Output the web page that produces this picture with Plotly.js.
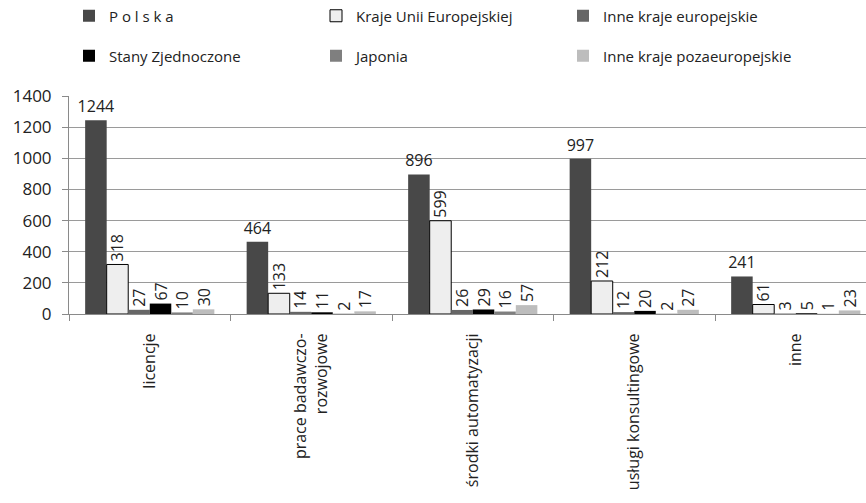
<!DOCTYPE html>
<html>
<head>
<meta charset="utf-8">
<script src="https://cdn.plot.ly/plotly-3.0.1.min.js"></script>
<style>
  html, body { margin: 0; padding: 0; background: #ffffff; }
  #chart { width: 866px; height: 503px; }
</style>
</head>
<body>
<div id="chart"></div>
<script>
// Categories of expenditure
const categories = [
  "licencje",
  "prace badawczo-<br>rozwojowe",
  "środki automatyzacji",
  "usługi konsultingowe",
  "inne"
];

// Values by country of origin
const polska = [1244, 464, 896, 997, 241];
const krajeUE = [318, 133, 599, 212, 61];
const inneEuropejskie = [27, 14, 26, 12, 3];
const stanyZjednoczone = [67, 11, 29, 20, 5];
const japonia = [10, 2, 16, 2, 1];
const innePozaeuropejskie = [30, 17, 57, 27, 23];

const yTicks = [0, 200, 400, 600, 800, 1000, 1200, 1400];

const numFont = { family: "Open Sans, Noto Sans, sans-serif", size: 16, color: "#222222" };

function series(name, values, color, opts) {
  opts = opts || {};
  return {
    type: "bar",
    name: name,
    x: categories,
    y: values,
    text: values.map(String),
    textposition: "outside",
    textangle: opts.angle !== undefined ? opts.angle : -90,
    textfont: numFont,
    constraintext: "none",
    cliponaxis: false,
    marker: {
      color: color,
      line: { color: opts.lineColor || color, width: opts.lineWidth || 0 }
    },
    legend: opts.legend || "legend",
    hoverinfo: "x+y+name"
  };
}

const data = [
  series("P o l s k a", polska, "#484848", { angle: 0 }),
  series("Kraje Unii Europejskiej", krajeUE, "#eeeeee", { lineColor: "#000000", lineWidth: 1 }),
  series("Inne kraje europejskie", inneEuropejskie, "#666666"),
  series("Stany Zjednoczone", stanyZjednoczone, "#000000", { legend: "legend2" }),
  series("Japonia", japonia, "#7f7f7f", { legend: "legend2" }),
  series("Inne kraje pozaeuropejskie", innePozaeuropejskie, "#bdbdbd", { legend: "legend2" })
];

// Two single-row legends, three entries each
const legendBase = {
  orientation: "h",
  xref: "paper",
  yref: "container",
  x: 0,
  xanchor: "left",
  yanchor: "middle",
  entrywidth: 202,
  entrywidthmode: "pixels",
  font: { family: "Open Sans, Noto Sans, sans-serif", size: 15, color: "#222222" },
  bgcolor: "rgba(0,0,0,0)",
  itemclick: false,
  itemdoubleclick: false
};

const layout = {
  width: 866,
  height: 503,
  margin: { l: 69, r: 0, t: 96, b: 189 },
  paper_bgcolor: "#ffffff",
  plot_bgcolor: "#ffffff",
  barmode: "group",
  bargap: 0.2,
  bargroupgap: 0,
  showlegend: true,
  legend: Object.assign({}, legendBase, { y: 1 - 16 / 503 }),
  legend2: Object.assign({}, legendBase, { y: 1 - 56 / 503 }),
  xaxis: {
    type: "category",
    range: [-0.5, 4.435],
    showgrid: false,
    showline: true,
    linecolor: "#8a8a8a",
    linewidth: 1,
    ticks: "outside",
    tickson: "boundaries",
    ticklen: 6,
    tickcolor: "#8a8a8a",
    tickangle: -90,
    ticklabelstandoff: 12,
    tickfont: { family: "Open Sans, Noto Sans, sans-serif", size: 16, color: "#222222" },
    fixedrange: true
  },
  yaxis: {
    range: [0, 1400],
    tickvals: yTicks,
    ticktext: yTicks.map(String),
    showgrid: true,
    gridcolor: "#9a9a9a",
    gridwidth: 1,
    zeroline: false,
    showline: true,
    linecolor: "#8a8a8a",
    linewidth: 1,
    ticks: "outside",
    ticklen: 6,
    tickcolor: "#8a8a8a",
    ticklabelstandoff: 7,
    tickfont: { family: "Open Sans, Noto Sans, sans-serif", size: 17, color: "#222222" },
    fixedrange: true
  }
};

Plotly.newPlot("chart", data, layout, { displayModeBar: false, staticPlot: true });
</script>
</body>
</html>
